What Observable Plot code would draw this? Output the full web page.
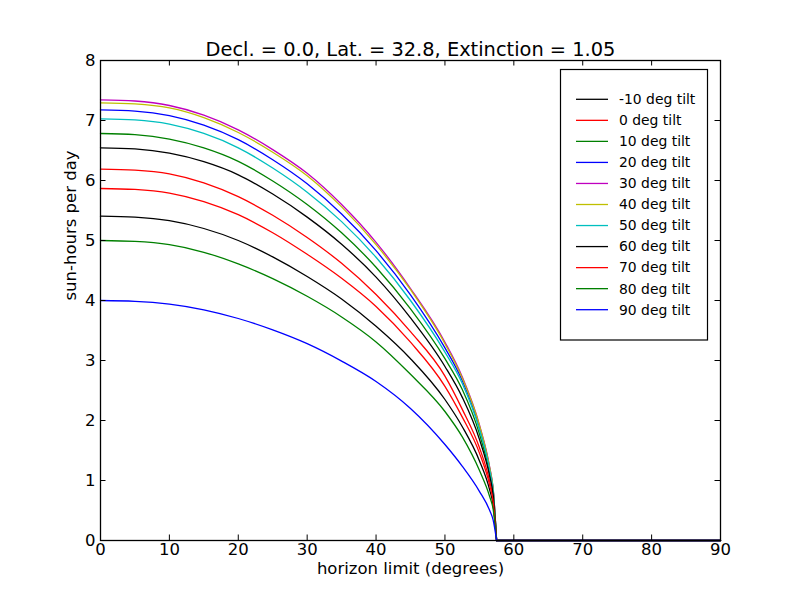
<!DOCTYPE html>
<html>
<head>
<meta charset="utf-8">
<script src="https://cdn.jsdelivr.net/npm/d3@7"></script>
<script src="https://cdn.jsdelivr.net/npm/@observablehq/plot@0.6"></script>
<style>
  html, body { margin: 0; padding: 0; background: #ffffff; }
  #chart { width: 800px; height: 600px; }
  svg { display: block; }
</style>
</head>
<body>
<div id="chart"></div>
<script>
const title = "Decl. = 0.0, Lat. = 32.8, Extinction = 1.05";
const xLabel = "horizon limit (degrees)";
const yLabel = "sun-hours per day";
const xTicks = [0, 10, 20, 30, 40, 50, 60, 70, 80, 90];
const yTicks = [0, 1, 2, 3, 4, 5, 6, 7, 8];

// horizon limit (degrees)
const horizon = [0, 5, 10, 15, 20, 25, 30, 35, 40, 45, 50, 52.5, 55, 56.5, 57, 57.5, 90];

const tiltLabels = ["-10 deg tilt", "0 deg tilt", "10 deg tilt", "20 deg tilt", "30 deg tilt",
  "40 deg tilt", "50 deg tilt", "60 deg tilt", "70 deg tilt", "80 deg tilt", "90 deg tilt"];
const tiltColors = ["#000000", "#ff0000", "#008000", "#0000ff", "#bf00bf",
  "#bfbf00", "#00bfbf", "#000000", "#ff0000", "#008000", "#0000ff"];

// sun-hours per day, one array per tilt
const tiltM10 = [5.405, 5.389, 5.33, 5.20, 5.00, 4.727, 4.40, 4.025, 3.57, 3.03, 2.35, 1.90, 1.33, 0.84, 0.59, 0, 0];
const tilt0   = [6.19, 6.173, 6.11, 5.96, 5.73, 5.42, 5.05, 4.62, 4.10, 3.48, 2.74, 2.19, 1.55, 0.98, 0.69, 0, 0];
const tilt10  = [6.783, 6.763, 6.69, 6.544, 6.32, 5.992, 5.60, 5.128, 4.555, 3.86, 3.03, 2.52, 1.78, 1.12, 0.80, 0, 0];
const tilt20  = [7.178, 7.157, 7.08, 6.922, 6.68, 6.346, 5.945, 5.441, 4.83, 4.095, 3.21, 2.67, 1.89, 1.19, 0.84, 0, 0];
const tilt30  = [7.345, 7.325, 7.25, 7.09, 6.845, 6.515, 6.12, 5.60, 4.97, 4.20, 3.305, 2.73, 1.93, 1.22, 0.86, 0, 0];
const tilt40  = [7.295, 7.277, 7.21, 7.048, 6.80, 6.472, 6.08, 5.56, 4.93, 4.18, 3.28, 2.71, 1.92, 1.21, 0.86, 0, 0];
const tilt50  = [7.028, 7.01, 6.94, 6.784, 6.545, 6.208, 5.805, 5.315, 4.72, 4.00, 3.14, 2.62, 1.85, 1.17, 0.83, 0, 0];
const tilt60  = [6.545, 6.526, 6.455, 6.313, 6.095, 5.774, 5.39, 4.938, 4.39, 3.71, 2.90, 2.39, 1.69, 1.07, 0.76, 0, 0];
const tilt70  = [5.867, 5.851, 5.79, 5.648, 5.43, 5.13, 4.77, 4.37, 3.90, 3.305, 2.57, 2.06, 1.46, 0.92, 0.65, 0, 0];
const tilt80  = [5.00, 4.985, 4.93, 4.804, 4.61, 4.364, 4.07, 3.726, 3.31, 2.77, 2.15, 1.73, 1.17, 0.73, 0.52, 0, 0];
const tilt90  = [4.00, 3.987, 3.94, 3.845, 3.70, 3.51, 3.28, 2.99, 2.65, 2.20, 1.60, 1.24, 0.82, 0.50, 0.34, 0, 0];

const tiltValues = [tiltM10, tilt0, tilt10, tilt20, tilt30, tilt40, tilt50, tilt60, tilt70, tilt80, tilt90];
const cutoff = 57.5;

const series = tiltValues.map((vals, k) => ({
  label: tiltLabels[k],
  color: tiltColors[k],
  rows: horizon.map((h, i) => ({h, v: vals[i]}))
}));

const W = 800, H = 600;
const mL = 100, mR = 80, mT = 60, mB = 60;
const frameH = H - mT - mB, frameW = W - mL - mR;
const tickLen = 5.5;
const font = "DejaVu Sans";

const lineMarks = [];
for (const s of series) {
  lineMarks.push(Plot.line(s.rows.filter(d => d.h <= cutoff), {
    x: "h", y: "v", stroke: s.color, strokeWidth: 1.3, curve: "monotone-x"
  }));
  lineMarks.push(Plot.line(s.rows.filter(d => d.h >= cutoff), {
    x: "h", y: "v", stroke: s.color, strokeWidth: 1.3
  }));
}

const svg = Plot.plot({
  width: W, height: H,
  marginLeft: mL, marginRight: mR, marginTop: mT, marginBottom: mB,
  style: {fontFamily: font, fontSize: "16.5px", background: "#ffffff", color: "#000000"},
  x: {domain: [0, 90], label: null},
  y: {domain: [0, 8], label: null},
  marks: [
    ...lineMarks,
    // inward ticks on all four sides
    Plot.tickX(xTicks, {x: d => d, insetTop: frameH - tickLen, stroke: "#000", strokeWidth: 1}),
    Plot.tickX(xTicks, {x: d => d, insetBottom: frameH - tickLen, stroke: "#000", strokeWidth: 1}),
    Plot.tickY(yTicks, {y: d => d, insetRight: frameW - tickLen, stroke: "#000", strokeWidth: 1}),
    Plot.tickY(yTicks, {y: d => d, insetLeft: frameW - tickLen, stroke: "#000", strokeWidth: 1}),
    Plot.axisX(xTicks, {tickSize: 0, tickPadding: 3, fontSize: 16.5, label: null, fill: "#000", tickFormat: d => String(d)}),
    Plot.axisY(yTicks, {tickSize: 0, tickPadding: 5, fontSize: 16.5, label: null, fill: "#000", tickFormat: d => String(d)}),
    Plot.frame({stroke: "#000", strokeWidth: 1.3}),
    Plot.text([title], {frameAnchor: "top", dy: -18, fontSize: 19.4, fill: "#000"}),
    Plot.text([xLabel], {frameAnchor: "bottom", dy: 33, fontSize: 16.5, fill: "#000"}),
    Plot.text([yLabel], {frameAnchor: "left", dx: -30, rotate: -90, fontSize: 16.5, fill: "#000"})
  ]
});

// legend (built from the series arrays)
const lg = d3.select(svg).append("g")
  .attr("font-family", font).attr("font-size", 13.9).attr("text-anchor", "start");
const boxX = 560.5, boxY = 69.5, boxW = 147, boxH = 270.5;
lg.append("rect").attr("x", boxX).attr("y", boxY).attr("width", boxW).attr("height", boxH)
  .attr("fill", "#fff").attr("stroke", "#000").attr("stroke-width", 1.2);
const rowY0 = 99.3, rowStep = 21.04;
series.forEach((s, i) => {
  const y = rowY0 + i * rowStep;
  lg.append("line").attr("x1", 576).attr("x2", 608).attr("y1", y).attr("y2", y)
    .attr("stroke", s.color).attr("stroke-width", 1.3);
  lg.append("text").attr("x", 619).attr("y", y).attr("dy", "0.35em")
    .attr("text-anchor", "start").attr("fill", "#000").text(s.label);
});

document.getElementById("chart").appendChild(svg);
</script>
</body>
</html>
